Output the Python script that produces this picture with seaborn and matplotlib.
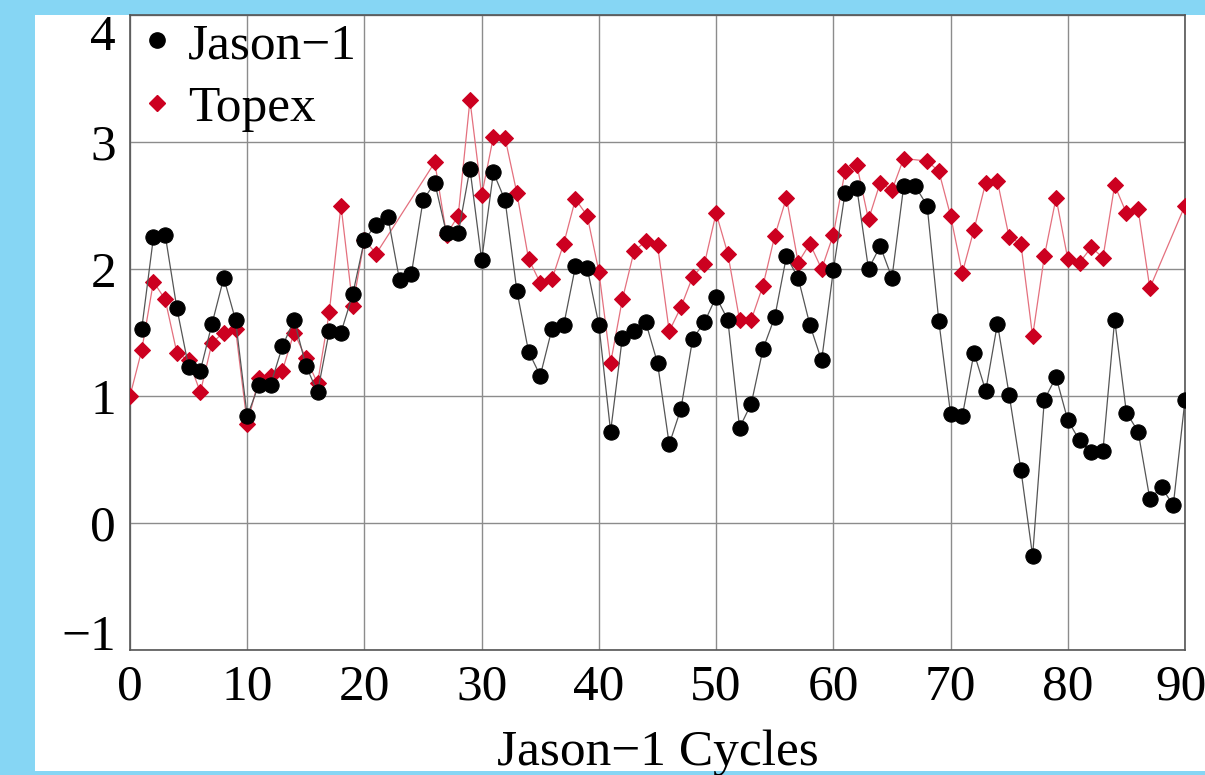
import numpy as np
import pandas as pd
import matplotlib
matplotlib.use("Agg")
import matplotlib.pyplot as plt
import matplotlib.transforms as mtransforms
from matplotlib.lines import Line2D
from matplotlib.patches import Rectangle
import seaborn as sns

# ---- data ----
jason_cycles = list(range(1, 91))
jason_values = [1.53, 2.25, 2.27, 1.69, 1.23, 1.20, 1.57, 1.93, 1.60, 0.84,
                1.09, 1.09, 1.39, 1.60, 1.24, 1.03, 1.51, 1.50, 1.80, 2.23,
                2.35, 2.41, 1.91, 1.96, 2.54, 2.68, 2.28, 2.28, 2.79, 2.07,
                2.76, 2.54, 1.83, 1.35, 1.16, 1.53, 1.56, 2.02, 2.01, 1.56,
                0.72, 1.46, 1.51, 1.58, 1.26, 0.62, 0.90, 1.45, 1.58, 1.78,
                1.60, 0.75, 0.94, 1.37, 1.62, 2.10, 1.93, 1.56, 1.28, 1.99,
                2.60, 2.64, 2.00, 2.18, 1.93, 2.65, 2.65, 2.50, 1.59, 0.86,
                0.84, 1.34, 1.04, 1.57, 1.01, 0.42, -0.26, 0.97, 1.15, 0.81,
                0.65, 0.56, 0.57, 1.60, 0.87, 0.72, 0.19, 0.28, 0.14, 0.97]

topex_cycles = ([0, 1, 2, 3, 4, 5, 6, 7, 8, 9, 10, 11, 12, 13, 14, 15, 16, 17, 18, 19, 20, 21]
                + list(range(26, 67)) + list(range(68, 88)) + [90])
topex_values = [1.00, 1.36, 1.90, 1.76, 1.34, 1.28, 1.03, 1.42, 1.50, 1.53,
                0.78, 1.14, 1.16, 1.20, 1.50, 1.30, 1.10, 1.66, 2.50, 1.71,
                2.23, 2.12,
                2.84, 2.27, 2.42, 3.33, 2.58, 3.04, 3.03, 2.60, 2.08, 1.89,
                1.92, 2.20, 2.55, 2.42, 1.98, 1.26, 1.76, 2.14, 2.22, 2.19,
                1.51, 1.70, 1.94, 2.04, 2.44, 2.12, 1.60, 1.60, 1.87, 2.26,
                2.56, 2.05, 2.20, 2.00, 2.27, 2.77, 2.82, 2.39, 2.68, 2.62,
                2.87,
                2.85, 2.77, 2.42, 1.97, 2.31, 2.68, 2.69, 2.25, 2.20, 1.47,
                2.10, 2.56, 2.08, 2.05, 2.17, 2.09, 2.66, 2.44, 2.47, 1.85,
                2.50]

series_names = ["Jason\u22121", "Topex"]
x_ticks = [0, 10, 20, 30, 40, 50, 60, 70, 80, 90]
y_ticks = [-1, 0, 1, 2, 3, 4]
x_label = "Jason\u22121 Cycles"

jason_df = pd.DataFrame({"cycle": jason_cycles, "value": jason_values})
topex_df = pd.DataFrame({"cycle": topex_cycles, "value": topex_values})

# ---- style ----
sns.set_style("white")
plt.rcParams["font.family"] = ["Liberation Serif", "DejaVu Serif"]
plt.rcParams["text.color"] = "black"
plt.rcParams["axes.labelcolor"] = "black"

BG = "#86d6f4"
RED = "#cc0020"

fig = plt.figure(figsize=(12.05, 7.75), dpi=100, facecolor=BG)
# white panel behind everything
fig.patches.append(Rectangle((35 / 1205, (775 - 771) / 775), 1.0, (771 - 15) / 775,
                             transform=fig.transFigure, facecolor="white",
                             edgecolor="none", zorder=-10))
ax = fig.add_axes([130 / 1205, 1 - 650 / 775, (1185 - 130) / 1205, (650 - 15) / 775])
ax.set_zorder(1)
ax.set_facecolor("white")

sns.lineplot(data=topex_df, x="cycle", y="value", ax=ax, sort=False, estimator=None,
             color="#e4707e", linewidth=0.9, marker="D", markersize=8,
             markerfacecolor=RED, markeredgecolor=RED, zorder=3)
sns.lineplot(data=jason_df, x="cycle", y="value", ax=ax, sort=False, estimator=None,
             color="#555555", linewidth=0.9, marker="o", markersize=11,
             markerfacecolor="black", markeredgecolor="black", zorder=4)

ax.set_xlim(0, 90)
ax.set_ylim(-1, 4)
ax.set_xticks(x_ticks)
ax.set_yticks(y_ticks)
ax.set_yticklabels(["\u22121" if t < 0 else str(t) for t in y_ticks])
ax.tick_params(axis="both", length=0, labelsize=37, colors="black")
ax.tick_params(axis="x", pad=10)
ax.tick_params(axis="y", pad=10)
ylabels = ax.get_yticklabels()
ylabels[0].set_verticalalignment("baseline")
ylabels[-1].set_verticalalignment("top")
xlabels = ax.get_xticklabels()
xlabels[-1].set_transform(xlabels[-1].get_transform() +
                          mtransforms.ScaledTranslation(-4 / 100, 0, fig.dpi_scale_trans))
ax.grid(True, color="#8c8c8c", linewidth=1.0)
ax.set_axisbelow(True)
for s in ax.spines.values():
    s.set_visible(True)
    s.set_color("#555555")
    s.set_linewidth(1.2)

ax.set_xlabel(x_label, fontsize=37, labelpad=14, color="black")
ax.set_ylabel("")

handles = [Line2D([], [], linestyle="none", marker="o", markersize=11,
                  markerfacecolor="black", markeredgecolor="black"),
           Line2D([], [], linestyle="none", marker="D", markersize=8,
                  markerfacecolor=RED, markeredgecolor=RED)]
leg = ax.legend(handles, series_names, loc="upper left", frameon=False, fontsize=37,
                handlelength=0.6, handletextpad=0.3, labelspacing=0.3,
                borderaxespad=0.1, bbox_to_anchor=(-0.013, 1.029))
for t in leg.get_texts():
    t.set_color("black")

fig.savefig("out.png", dpi=100, facecolor=BG)
